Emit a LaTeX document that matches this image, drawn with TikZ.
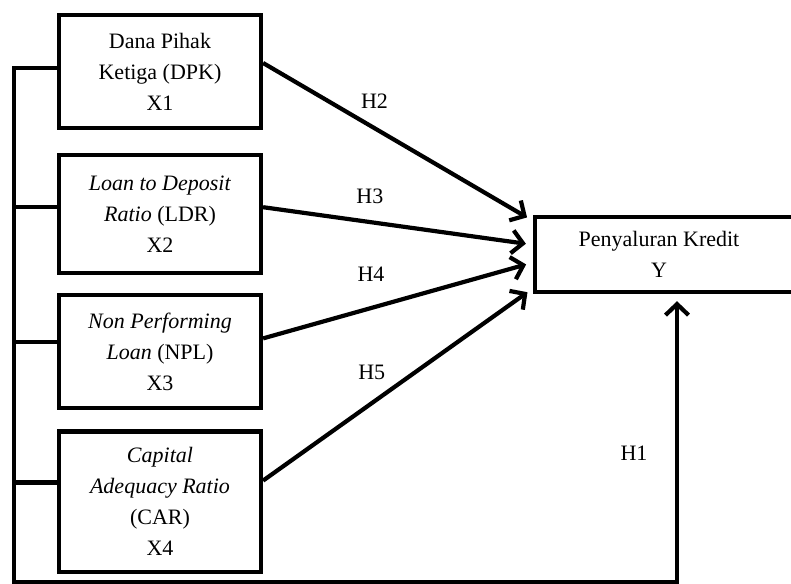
\documentclass[tikz,border=0pt]{standalone}
\usepackage{fontspec}
\setmainfont{Liberation Serif}
\usetikzlibrary{arrows.meta,positioning}
\tikzset{
  >={Straight Barb[length=11pt,width=23pt]},
  varbox/.style={rectangle,draw,line width=4.2pt,minimum width=202pt,minimum height=113pt,align=center,inner sep=2pt,font=\fontsize{22}{31}\selectfont},
  target/.style={rectangle,minimum width=248pt,minimum height=75pt,align=center,font=\fontsize{22}{31}\selectfont},
  link/.style={line width=4.2pt},
  edge/.style={link,->,shorten >=9pt},
  hyp/.style={inner sep=0pt,font=\fontsize{22}{26}\selectfont}
}

\begin{document}
\begin{tikzpicture}[x=1pt,y=1pt]
  \useasboundingbox (0,0) rectangle (791,583);

  % Variables
  \node[varbox] (x1) at (160,511.5) {Dana Pihak\\Ketiga (DPK)\\X1};
  \node[varbox,below=23pt of x1,minimum height=118pt] (x2) {\textit{Loan to Deposit}\\\textit{Ratio} (LDR)\\X2};
  \node[varbox,below=18pt of x2] (x3) {\textit{Non Performing}\\\textit{Loan} (NPL)\\X3};
  \node[varbox,below=19pt of x3,minimum height=140pt] (x4) {\textit{Capital}\\\textit{Adequacy Ratio}\\(CAR)\\X4};
  \node[target] (ky) at (659,328.5) {Penyaluran Kredit\\Y};
  \draw[link] ([xshift=30pt]ky.north east) -- (ky.north west) -- (ky.south west) -- ([xshift=30pt]ky.south east);

  \coordinate (corner) at (14,0.8);
  \coordinate (foot) at (677,0.8);

  % Simultaneous path (H1)
  \draw[edge] ([yshift=3.5pt]x1.west) -| (corner) -- (foot) -- (foot |- ky.south)
    node[hyp,pos=0.446,xshift=-43pt] (h1) {H1};
  \draw[link] ([yshift=7pt]x2.west) -- ([yshift=7pt]x2.west -| corner);
  \draw[link] ([yshift=9.5pt]x3.west) -- ([yshift=9.5pt]x3.west -| corner);
  \draw[link] ([yshift=19pt]x4.west) -- ([yshift=19pt]x4.west -| corner);

  % Partial paths
  \draw[edge] ([yshift=8.5pt]x1.east) -- ([yshift=32.5pt]ky.west) node[hyp,pos=0.41,yshift=27pt] (h2) {H2};
  \draw[edge] ([yshift=7pt]x2.east) -- ([yshift=9.5pt]ky.west) node[hyp,pos=0.393,yshift=26pt] (h3) {H3};
  \draw[edge] ([yshift=13.5pt]x3.east) -- ([yshift=-7.5pt]ky.west) node[hyp,pos=0.397,yshift=34pt] (h4) {H4};
  \draw[edge] ([yshift=21pt]x4.east) -- ([yshift=-32.5pt]ky.west) node[hyp,pos=0.4,yshift=31pt] (h5) {H5};
\end{tikzpicture}
\end{document}
